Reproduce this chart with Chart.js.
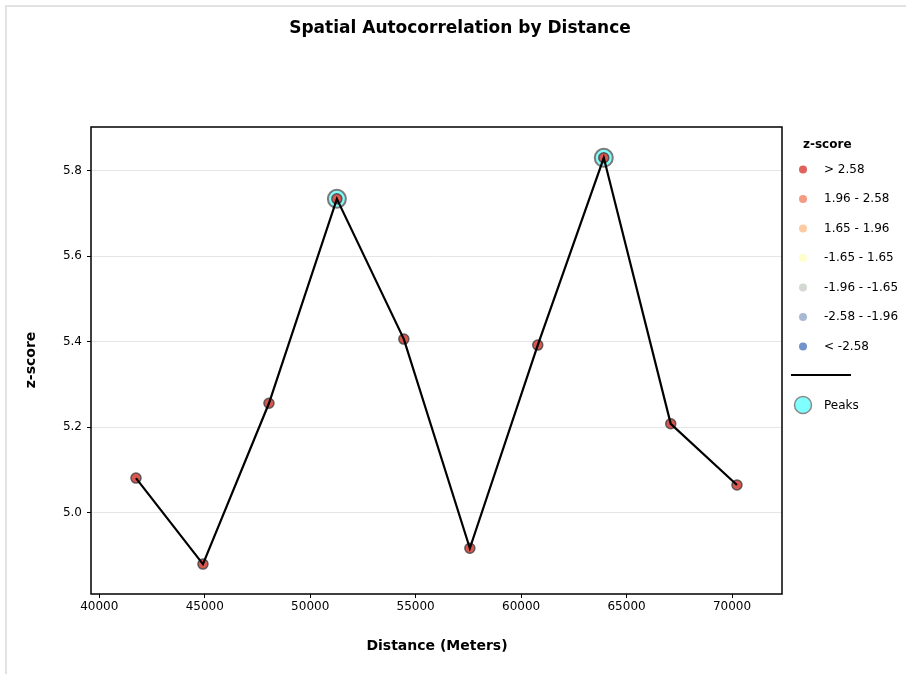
<!DOCTYPE html>
<html>
<head>
<meta charset="utf-8">
<script src="https://cdn.jsdelivr.net/npm/chart.js@4.4.1/dist/chart.umd.min.js"></script>
<style>
  html, body { margin: 0; padding: 0; background: #fff; }
  #wrap { width: 906px; height: 674px; }
</style>
</head>
<body>
<div id="wrap"><canvas id="lagChart" width="906" height="674"></canvas></div>
<script>
// distance bands (m) and the z-score measured at each
const distances = [41740, 44915, 48045, 51265, 54440, 57570, 60790, 63920, 67095, 70235];
const zScores = [5.081, 4.880, 5.256, 5.734, 5.406, 4.917, 5.392, 5.830, 5.208, 5.065];
const peakIndex = [3, 7];

const xTickValues = [40000, 45000, 50000, 55000, 60000, 65000, 70000];
const yTickValues = [5.0, 5.2, 5.4, 5.6, 5.8];

const binLabels = ["> 2.58", "1.96 - 2.58", "1.65 - 1.96", "-1.65 - 1.65", "-1.96 - -1.65", "-2.58 - -1.96", "< -2.58"];
const binColors = ["#e0625c", "#f29c84", "#fdcaa2", "#ffffcc", "#d5d9d3", "#a9b9d2", "#7093c9"];

const FONT = "'DejaVu Sans', sans-serif";

const points = distances.map((d, i) => ({ x: d, y: zScores[i] }));
const peaks = peakIndex.map(i => ({ x: distances[i], y: zScores[i] }));

const decorations = {
  id: "decorations",
  beforeDraw(chart) {
    const ctx = chart.ctx;
    ctx.save();
    ctx.fillStyle = "#fff";
    ctx.fillRect(0, 0, chart.width, chart.height);
    ctx.fillStyle = "#e2e2e2";
    ctx.fillRect(5, 5, chart.width - 5, 2);
    ctx.fillRect(5, 5, 2, chart.height - 5);
    ctx.restore();
  },
  afterDraw(chart) {
    const ctx = chart.ctx;
    const a = chart.chartArea;
    ctx.save();

    // frame around the plot
    ctx.strokeStyle = "#000";
    ctx.lineWidth = 1.5;
    ctx.strokeRect(a.left, a.top, a.right - a.left, a.bottom - a.top);

    // title and axis titles
    ctx.fillStyle = "#000";
    ctx.textAlign = "center";
    ctx.textBaseline = "middle";
    ctx.font = "bold 17px " + FONT;
    ctx.fillText("Spatial Autocorrelation by Distance", 460, 29);
    ctx.font = "bold 14px " + FONT;
    ctx.fillText("Distance (Meters)", 437, 646);
    ctx.save();
    ctx.translate(31, 360);
    ctx.rotate(-Math.PI / 2);
    ctx.fillText("z-score", 0, 0);
    ctx.restore();

    // legend
    const lx = 803;
    ctx.textAlign = "left";
    ctx.font = "bold 12px " + FONT;
    ctx.fillText("z-score", lx, 145);
    ctx.font = "12px " + FONT;
    binLabels.forEach((lab, i) => {
      const y = 169.5 + i * 29.5;
      ctx.beginPath();
      ctx.arc(lx, y, 4, 0, Math.PI * 2);
      ctx.fillStyle = binColors[i];
      ctx.fill();
      ctx.fillStyle = "#000";
      ctx.fillText(lab, 824, y);
    });
    ctx.strokeStyle = "#000";
    ctx.lineWidth = 2;
    ctx.beginPath();
    ctx.moveTo(791, 375);
    ctx.lineTo(851, 375);
    ctx.stroke();

    ctx.beginPath();
    ctx.arc(lx, 405, 8.5, 0, Math.PI * 2);
    ctx.fillStyle = "#80ffff";
    ctx.fill();
    ctx.strokeStyle = "#8a8a8a";
    ctx.lineWidth = 1.5;
    ctx.stroke();
    ctx.fillStyle = "#000";
    ctx.fillText("Peaks", 824, 406);

    ctx.restore();
  }
};

new Chart(document.getElementById("lagChart"), {
  type: "scatter",
  data: {
    datasets: [
      {
        data: points,
        showLine: true,
        borderColor: "#000",
        borderWidth: 2.2,
        pointRadius: 0,
        order: 0
      },
      {
        data: points,
        showLine: false,
        pointRadius: 5,
        pointBackgroundColor: "#d9574f",
        pointBorderColor: "rgba(70,70,70,0.85)",
        pointBorderWidth: 1.5,
        order: 1
      },
      {
        data: peaks,
        showLine: false,
        pointRadius: 9,
        pointBackgroundColor: "#80ffff",
        pointBorderColor: "#7a7a7a",
        pointBorderWidth: 2,
        order: 2
      }
    ]
  },
  options: {
    responsive: false,
    animation: false,
    devicePixelRatio: 1,
    layout: { padding: { left: 0, top: 127, right: 124, bottom: 0 } },
    plugins: {
      legend: { display: false },
      tooltip: { enabled: false }
    },
    scales: {
      x: {
        type: "linear",
        min: 39607,
        max: 72370,
        afterBuildTicks: s => { s.ticks = xTickValues.map(v => ({ value: v })); },
        afterFit: s => { s.height = 80; },
        border: { display: false },
        grid: { drawOnChartArea: false, tickColor: "#000", tickLength: 4, lineWidth: 1 },
        ticks: {
          color: "#000",
          padding: 2,
          maxRotation: 0,
          font: { family: FONT, size: 12 },
          callback: v => String(v)
        }
      },
      y: {
        type: "linear",
        min: 4.810,
        max: 5.902,
        afterBuildTicks: s => { s.ticks = yTickValues.map(v => ({ value: v })); },
        afterFit: s => { s.width = 91; },
        border: { display: false },
        grid: { color: "#e6e6e6", tickColor: "#000", tickLength: 4, lineWidth: 1 },
        ticks: {
          color: "#000",
          padding: 5,
          font: { family: FONT, size: 12 },
          callback: v => v.toFixed(1)
        }
      }
    }
  },
  plugins: [decorations]
});
</script>
</body>
</html>
